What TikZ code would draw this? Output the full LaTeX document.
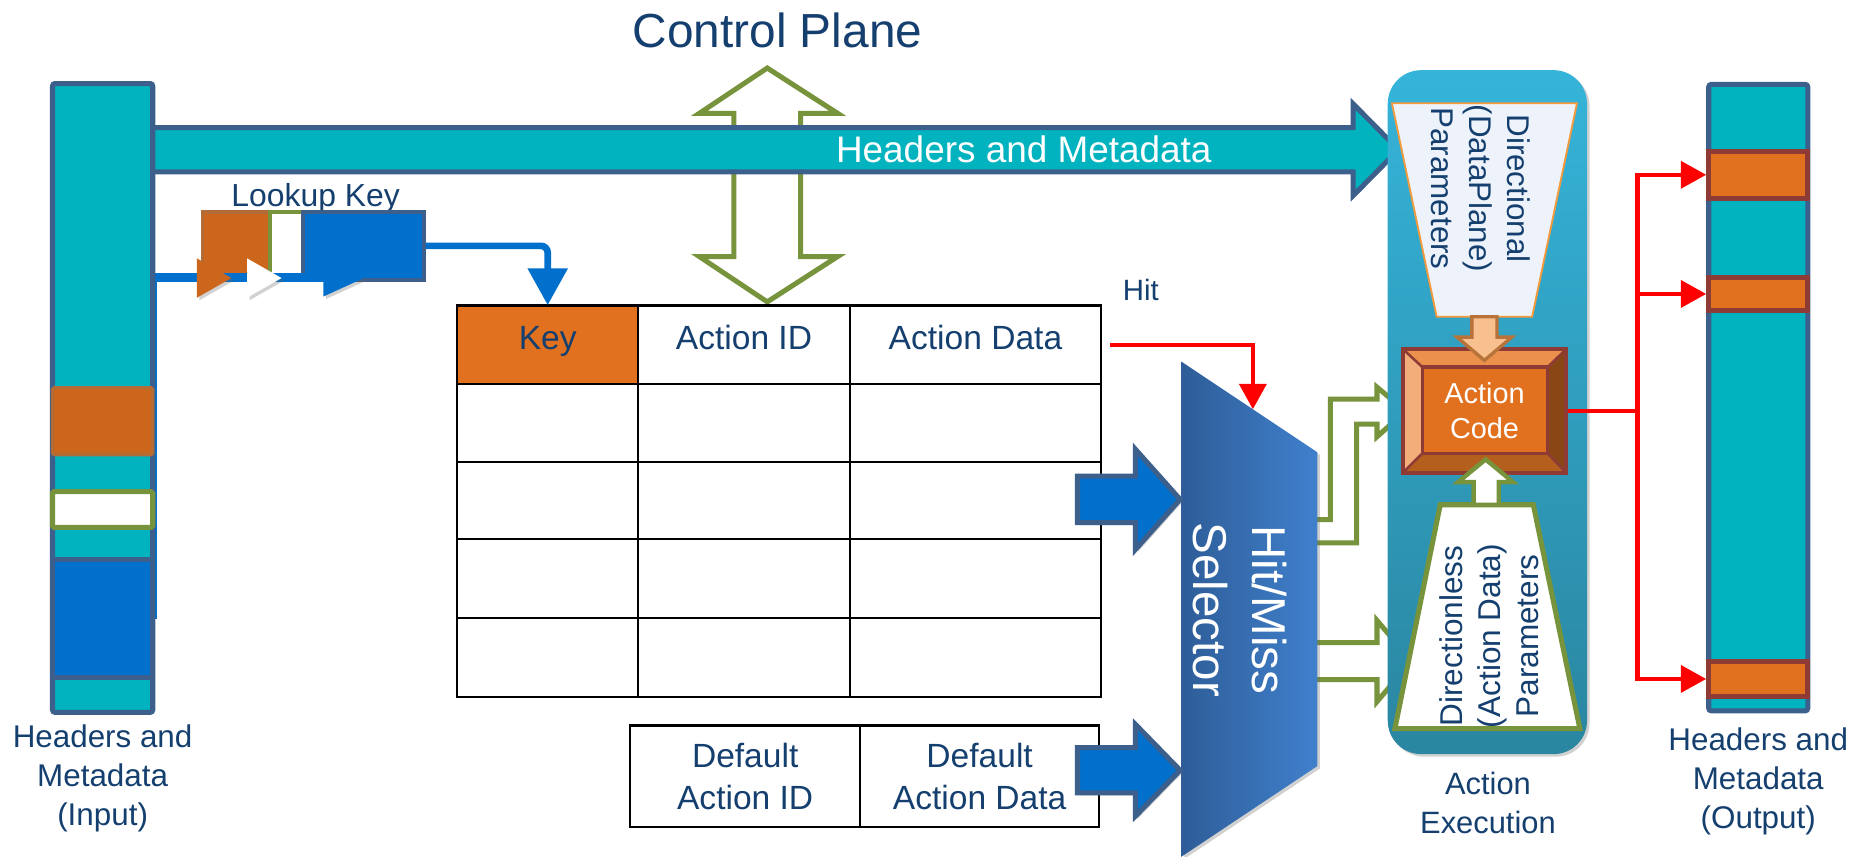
\documentclass[tikz,border=0pt]{standalone}
\usepackage{fontspec}
\setmainfont{Liberation Sans}
\usetikzlibrary{arrows.meta,fit,calc,shadows}

\definecolor{hmTeal}{HTML}{00B3BE}
\definecolor{hmSlate}{HTML}{3C5F8C}
\definecolor{hmBlue}{HTML}{0070CC}
\definecolor{hmOrange}{HTML}{E2711F}
\definecolor{hmOrangeDark}{HTML}{CC661C}
\definecolor{hmOrangeEdge}{HTML}{B46C36}
\definecolor{hmGreen}{HTML}{77933C}
\definecolor{hmText}{HTML}{143F6E}
\definecolor{hmRed}{HTML}{FF0000}
\definecolor{hmBrown}{HTML}{8E3B36}
\definecolor{bevelTop}{HTML}{EB914D}
\definecolor{bevelBot}{HTML}{B45F1D}
\definecolor{bevelLeft}{HTML}{F2AD7B}
\definecolor{bevelRight}{HTML}{8A4716}
\definecolor{dirFill}{HTML}{EEF3FB}
\definecolor{dirEdge}{HTML}{F39A3D}
\definecolor{peach}{HTML}{F9C08F}
\definecolor{peachEdge}{HTML}{B8733A}
\definecolor{contTop}{HTML}{35B4D9}
\definecolor{contBot}{HTML}{2A86A1}
\definecolor{selLeft}{HTML}{2E5D98}
\definecolor{selRight}{HTML}{4080CC}

% right-pointing block arrow: style, x0, y-centre, x of head base, x of tip, shaft half, head half
\newcommand{\rblockarrow}[7]{%
  \path[#1] (#2,{#3-#6}) -- (#4,{#3-#6}) -- (#4,{#3-#7}) -- (#5,#3)
    -- (#4,{#3+#7}) -- (#4,{#3+#6}) -- (#2,{#3+#6}) -- cycle;}

\begin{document}
\begin{tikzpicture}[x=0.025cm, y=-0.025cm, line join=miter,
  every node/.style={inner sep=0pt},
  softshadow/.style={drop shadow={shadow xshift=1.5pt, shadow yshift=-1.5pt, opacity=0.3, fill=black!60}},
  barbox/.style={draw=hmSlate, fill=hmTeal, line width=3pt, rounded corners=1.5pt},
  outblock/.style={draw=hmBrown, fill=hmOrange, line width=3pt},
  hollow/.style={draw=hmGreen, fill=white, line width=3pt},
  bluearrow/.style={draw=hmSlate, fill=hmBlue, line width=3pt, softshadow},
  hmarrow/.style={draw=hmSlate, fill=hmTeal, line width=3pt},
  gridline/.style={draw=black, line width=1.3pt},
  bluewire/.style={draw=hmBlue, line width=5pt},
  bluelink/.style={draw=hmBlue, line width=4pt, rounded corners=4pt,
    -{Triangle[length=7.7mm,width=8.1mm]}},
  redwire/.style={draw=hmRed, line width=2.6pt},
  redlink/.style={draw=hmRed, line width=2.6pt, -{Triangle[length=5.3mm,width=5.6mm]}},
  tabtext/.style={text=hmText, font=\fontsize{20}{25}\selectfont},
  label/.style={text=hmText, align=center, font=\fontsize{18.7}{23.3}\selectfont},
]
\useasboundingbox (0,0) rectangle (1568,718);

% ---------- title and control-plane double arrow ----------
\node[text=hmText, font=\fontsize{28.5}{34}\selectfont, anchor=base] (cptitle) at (651.5,40) {Control Plane};
\path[hollow] (643,57) -- (702,95) -- (671,95) -- (671,215) -- (702,215) -- (643,253)
  -- (586,215) -- (615,215) -- (615,95) -- (586,95) -- cycle;

% ---------- lookup key ----------
\node[text=hmText, font=\fontsize{19}{23}\selectfont, anchor=base] (lklabel) at (264.5,173) {Lookup Key};
\node[fit={(169.6,177.4)(226.3,233.3)}, fill=hmOrangeDark, draw=hmOrangeEdge, line width=2.2pt] (lkorange) {};
\node[fit={(226.3,177.4)(254,233.3)}, fill=white, draw=hmGreen, line width=2.2pt] (lkwhite) {};
\node[fit={(254,177.4)(355.4,234.7)}, fill=hmBlue, draw=hmSlate, line width=2.5pt] (lkblue) {};

% input header fields (defined first so the wire can start there)
\path (44,469) coordinate (inblueNW) (128,568) coordinate (inblueSE);
\node[fit={(inblueNW)(inblueSE)}] (inblue) {};
\coordinate (lkend) at (292,232.5);
\draw[bluewire] (inblue.east) -- (inblue.east |- lkend) -- (lkend);

% ---------- input bar ----------
\node[fit={(44,70)(128,597)}, barbox] (inbar) {};
\node[fit={(44,325)(128,381)}, fill=hmOrangeDark, draw=hmOrangeEdge, line width=2pt, rounded corners=1pt] (inorange) {};
\node[fit={(44,412)(128,442)}, fill=white, draw=hmGreen, line width=3pt, rounded corners=1pt] (inwhite) {};
\node[fit={(inblueNW)(inblueSE)}, fill=hmBlue, draw=hmSlate, line width=3pt] (inbluebox) {};
\node[label, anchor=north] (inlabel) at (86,607) {Headers and\\Metadata\\(Input)};

% arrowheads riding on the lookup wire
\path[fill=hmOrangeDark, softshadow] (165,216.5) -- (194,233) -- (165,249.5) -- cycle;
\path[fill=white, softshadow] (207,216.5) -- (236,233) -- (207,249.5) -- cycle;
\path[fill=hmBlue, softshadow] (271,218.5) -- (305,233) -- (271,248.5) -- cycle;

% ---------- headers and metadata bus ----------
\rblockarrow{hmarrow}{128}{125.5}{1134}{1172}{18.5}{38.5}
\node[text=white, font=\fontsize{22}{26}\selectfont, anchor=base] (hmtext) at (858,136.3) {Headers and Metadata};

% ---------- match table ----------
\node[fit={(383,256)(535,322)}, fill=hmOrange] (keycell) {};
\node[fit={(535,256)(712,322)}] (aidcell) {};
\node[fit={(712,256)(923,322)}] (adcell) {};
\node[fit={(383,256)(923,584)}, draw=black, line width=1.3pt] (tbl) {};
\foreach \yy in {322,387,452,518} \draw[gridline] (383,\yy) -- (923,\yy);
\foreach \xx in {535,712} \draw[gridline] (\xx,256) -- (\xx,584);
\node[tabtext, anchor=base] (tkey) at ($(keycell.center)+(0,4)$) {Key};
\node[tabtext, anchor=base] (taid) at ($(aidcell.center)+(0,4)$) {Action ID};
\node[tabtext, anchor=base] (tad) at ($(adcell.center)+(0,4)$) {Action Data};

\draw[bluelink] (lkblue.east) -| (keycell.north);

% default entry
\node[fit={(528,608)(721,693)}, draw=black, line width=1.3pt] (dai) {};
\node[fit={(721,608)(921,693)}, draw=black, line width=1.3pt] (dad) {};
\node[tabtext, align=center] at (dai.center) {Default\\Action ID};
\node[tabtext, align=center] at (dad.center) {Default\\Action Data};

% ---------- hit/miss selector ----------
\coordinate (s1) at (990,303);
\coordinate (s2) at (1104,379);
\coordinate (s3) at (1104,642);
\coordinate (s4) at (990,718);
\coordinate (selhit) at ($(s1)!0.526!(s2)$);

% green outputs of the selector (drawn first, selector covers their roots)
\path[hollow] (1100,435.5) -- (1115,435.5) -- (1115,334.5) -- (1154,334.5) -- (1154,324.5)
  -- (1178,344.6) -- (1154,366) -- (1154,355.5) -- (1137,355.5) -- (1137,455) -- (1100,455) -- cycle;
\rblockarrow{hollow}{1100}{554}{1154}{1183}{15.5}{34}

\shade[left color=selLeft, right color=selRight, softshadow] (s1) -- (s2) -- (s3) -- (s4) -- cycle;
\node[text=white, rotate=-90, align=center, font=\fontsize{28.3}{34.8}\selectfont] (seltext) at (1039,511) {Hit/Miss\\Selector};

\rblockarrow{bluearrow}{903}{418.5}{951.5}{989}{19.5}{42}
\rblockarrow{bluearrow}{903}{645.5}{951.5}{989}{19}{38.5}

\node[text=hmText, font=\fontsize{17.5}{21}\selectfont, anchor=base] (hittext) at (956,252) {Hit};
\draw[redlink] ($(adcell.east)+(7,0)$) -| (selhit);

% ---------- action execution ----------
\shade[top color=contTop, bottom color=contBot, rounded corners=0.7cm, softshadow]
  (1163,58.8) rectangle (1330,632);
\node[label, font=\fontsize{18.4}{23.2}\selectfont, anchor=north] (aexlabel) at (1247,647) {Action\\Execution};

% directional parameters
\path[fill=dirFill, draw=dirEdge, line width=1.1pt] (1166.5,86.5) -- (1321.6,86.5) -- (1284,265.5) -- (1204,265.5) -- cycle;
\node[text=hmText, rotate=-90, align=center, font=\fontsize{18.7}{22.8}\selectfont] (dirtext) at (1241,158)
  {Directional\\(DataPlane)\\Parameters};

% directionless parameters
\path[fill=white, draw=hmGreen, line width=3pt] (1207,423) -- (1285,423) -- (1324,610.6) -- (1169,610.6) -- cycle;
\node[text=hmText, rotate=90, align=center, font=\fontsize{18.8}{22.8}\selectfont] (dltext) at (1248,533)
  {Directionless\\(Action Data)\\Parameters};

% action code, bevelled box
\path (1175.5,292.4) coordinate (o1) (1312.7,292.4) coordinate (o2)
      (1312.7,396.3) coordinate (o3) (1175.5,396.3) coordinate (o4)
      (1192,307.6) coordinate (i1) (1297,307.6) coordinate (i2)
      (1297,380) coordinate (i3) (1192,380) coordinate (i4);
\fill[bevelTop] (o1) -- (o2) -- (i2) -- (i1) -- cycle;
\fill[bevelBot] (o4) -- (o3) -- (i3) -- (i4) -- cycle;
\fill[bevelLeft] (o1) -- (i1) -- (i4) -- (o4) -- cycle;
\fill[bevelRight] (o2) -- (o3) -- (i3) -- (i2) -- cycle;
\path[fill=hmOrange, draw=hmBrown, line width=2pt] (i1) rectangle (i3);
\draw[hmBrown, line width=1.5pt] (o1) -- (i1) (o2) -- (i2) (o3) -- (i3) (o4) -- (i4);
\node[fit={(o1)(o3)}, draw=hmBrown, line width=2.4pt] (acode) {};
\node[text=white, align=center, font=\fontsize{17.2}{20.6}\selectfont] (acodetext) at (acode.center) {Action\\Code};

% feeds into the action code
\path[fill=peach, draw=peachEdge, line width=2pt] (1233.5,265.5) -- (1254.5,265.5) -- (1254.5,282.5)
  -- (1267,282.5) -- (1244,302) -- (1221,282.5) -- (1233.5,282.5) -- cycle;
\path[hollow, line width=2.6pt] (1235,423) -- (1256,423) -- (1256,404) -- (1268,404) -- (1245,385)
  -- (1222,404) -- (1235,404) -- cycle;

% ---------- output bar ----------
\node[fit={(1432,70.7)(1515,595.7)}, barbox] (outbar) {};
\node[fit={(1432,127)(1515,166)}, outblock] (ob1) {};
\node[fit={(1432,232.7)(1515,260)}, outblock] (ob2) {};
\node[fit={(1432,554)(1515,584)}, outblock] (ob3) {};
\node[label, anchor=north] (outlabel) at (1473.5,609.5) {Headers and\\Metadata\\(Output)};

\coordinate (fork) at ($(acode.east)+(58,0)$);
\draw[redwire] (acode.east) -- (fork);
\draw[redlink] (fork) |- (ob1.west);
\draw[redlink] (fork) |- (ob2.west);
\draw[redlink] (fork) |- (ob3.west);
\end{tikzpicture}
\end{document}
